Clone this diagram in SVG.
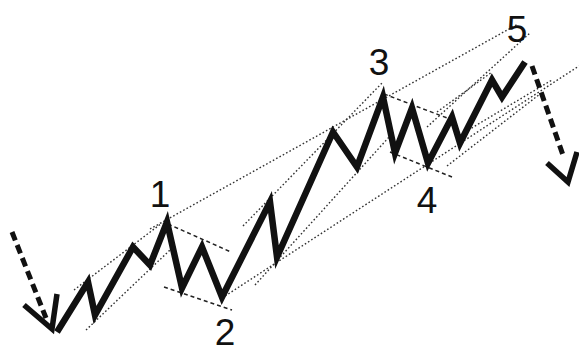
<svg xmlns="http://www.w3.org/2000/svg" width="579" height="354" viewBox="0 0 579 354">
<style>
.dot{fill:none;stroke:#333;stroke-width:1.4;stroke-dasharray:1.6 2.2;stroke-linecap:butt}
.dash{fill:none;stroke:#222;stroke-width:1.5;stroke-dasharray:4 3}
.wave{fill:none;stroke:#111;stroke-width:6.5;stroke-linejoin:miter;stroke-miterlimit:10;stroke-linecap:butt}
.arrow{fill:none;stroke:#111;stroke-width:5;stroke-dasharray:9 5}
.head{fill:none;stroke:#111;stroke-width:5.5;stroke-linejoin:miter;stroke-linecap:butt}
.lbl{font-family:"Liberation Sans",Arial,sans-serif;font-size:37px;fill:#111;text-anchor:middle}
</style>
<rect width="579" height="354" fill="#fff"/>
<g id="channels">
<line class="dot" x1="150" y1="229" x2="518" y2="24"/>
<line class="dot" x1="222" y1="298" x2="579" y2="66"/>
<line class="dot" x1="74" y1="290" x2="162" y2="223"/>
<line class="dot" x1="86" y1="330" x2="170" y2="250"/>
<line class="dash" x1="168" y1="224" x2="231" y2="252"/>
<line class="dash" x1="164" y1="287" x2="232" y2="310"/>
<line class="dot" x1="243" y1="226" x2="383" y2="82"/>
<line class="dot" x1="255" y1="285" x2="390" y2="136"/>
<line class="dash" x1="384" y1="94" x2="455" y2="121"/>
<line class="dash" x1="390" y1="152" x2="452" y2="177"/>
<line class="dot" x1="427" y1="127" x2="530" y2="33"/>
<line class="dot" x1="437" y1="112" x2="492" y2="72"/>
<line class="dot" x1="465" y1="132" x2="552" y2="80"/>
<line class="dot" x1="447" y1="166" x2="540" y2="94"/>
</g>
<g id="wave">
<polyline class="wave" points="57,332 88,282 95,315 133,247 150,265 167,222 182,288 202,247 222,297 270,202 277,257 333,132 357,167 383,97 395,153 412,108 428,163 452,117 460,143 492,80 502,97 525,62"/>
</g>
<g id="arrow-in">
<line class="arrow" x1="12" y1="232" x2="46" y2="318"/>
<polyline class="head" points="24,305 52,329 57,294"/>
</g>
<g id="arrow-out">
<line class="arrow" x1="532" y1="66" x2="564" y2="158"/>
<polyline class="head" points="547,163 568,182 577,152"/>
</g>
<g id="labels">
<text class="lbl" x="160" y="207">1</text>
<text class="lbl" x="225" y="345">2</text>
<text class="lbl" x="379" y="75">3</text>
<text class="lbl" x="427" y="213">4</text>
<text class="lbl" x="517" y="42">5</text>
</g>
</svg>
